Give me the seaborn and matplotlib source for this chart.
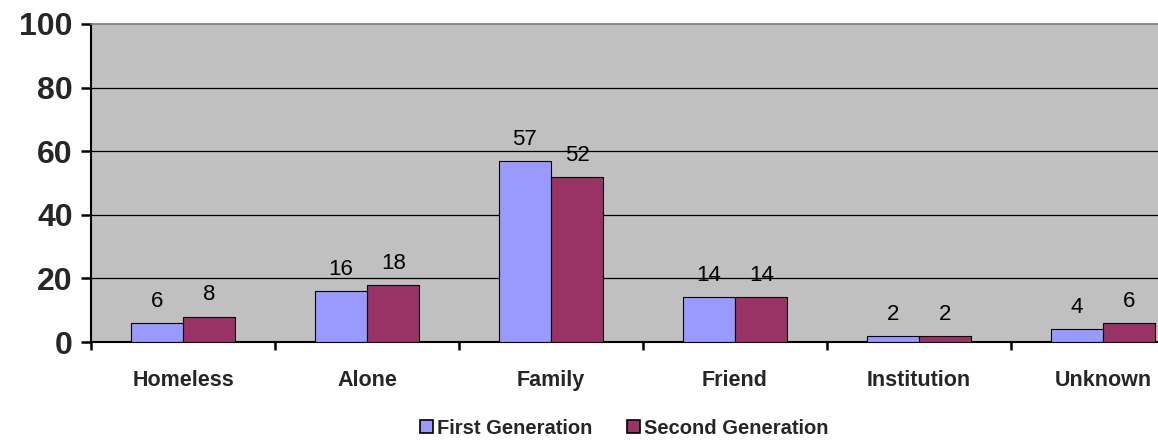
import matplotlib
matplotlib.use("Agg")
import matplotlib.pyplot as plt
import seaborn as sns
import pandas as pd
from matplotlib.patches import Patch

categories = ["Homeless", "Alone", "Family", "Friend", "Institution", "Unknown"]
first_gen = [6, 16, 57, 14, 2, 4]
second_gen = [8, 18, 52, 14, 2, 6]
series = ["First Generation", "Second Generation"]
yticks = [0, 20, 40, 60, 80, 100]

df = pd.DataFrame({
    "category": categories * 2,
    "value": first_gen + second_gen,
    "series": [series[0]] * len(categories) + [series[1]] * len(categories),
})

sns.set_theme(style="white")
plt.rcParams["font.family"] = ["Liberation Sans", "DejaVu Sans"]

colors = ["#9999FF", "#993366"]
fig = plt.figure(figsize=(11.58, 4.4), dpi=100)
ax = fig.add_axes([91 / 1158, 98 / 440, 1104 / 1158, 318 / 440])
ax.set_facecolor("#C0C0C0")

sns.barplot(data=df, x="category", y="value", hue="series", order=categories,
            hue_order=series, palette=colors, saturation=1, width=0.57, gap=0,
            edgecolor="black", linewidth=0.8, ax=ax, legend=False, zorder=3)

for cont in ax.containers:
    ax.bar_label(cont, padding=8, fontsize=16, color="black")

ax.set_xlim(-0.5, len(categories) - 0.5)
ax.set_ylim(0, 100)
ax.set_yticks(yticks)
ax.set_yticklabels([str(v) for v in yticks], fontsize=23, fontweight="bold")
ax.set_xticks(range(len(categories)))
ax.set_xticklabels(categories, fontsize=15.5, fontweight="bold")
ax.set_xlabel("")
ax.set_ylabel("")
ax.tick_params(axis="x", which="major", bottom=True, length=0, pad=20)
ax.set_xticks([i - 0.5 for i in range(len(categories) + 1)], minor=True)
ax.tick_params(axis="x", which="minor", bottom=True, length=6, width=1.8,
               color="black", direction="out")
ax.tick_params(axis="y", left=True, length=7, width=1.8, color="black",
               direction="out", pad=6)

for v in yticks[1:-1]:
    ax.axhline(v, color="black", linewidth=0.9, zorder=1)

for side in ["top", "right"]:
    ax.spines[side].set_visible(True)
    ax.spines[side].set_color("#808080")
ax.spines["left"].set_color("black")
ax.spines["left"].set_linewidth(1.5)
ax.spines["bottom"].set_color("black")
ax.spines["bottom"].set_linewidth(1.5)

handles = [Patch(facecolor=c, edgecolor="black", linewidth=1.2) for c in colors]
fig.legend(handles, series, loc="center", bbox_to_anchor=(624 / 1158, 1 - 428 / 440),
           ncol=2, frameon=False, prop={"weight": "bold", "size": 14.5},
           handlelength=0.65, handleheight=0.65, handletextpad=0.2, columnspacing=1.7)

fig.savefig("out.png", dpi=100)
